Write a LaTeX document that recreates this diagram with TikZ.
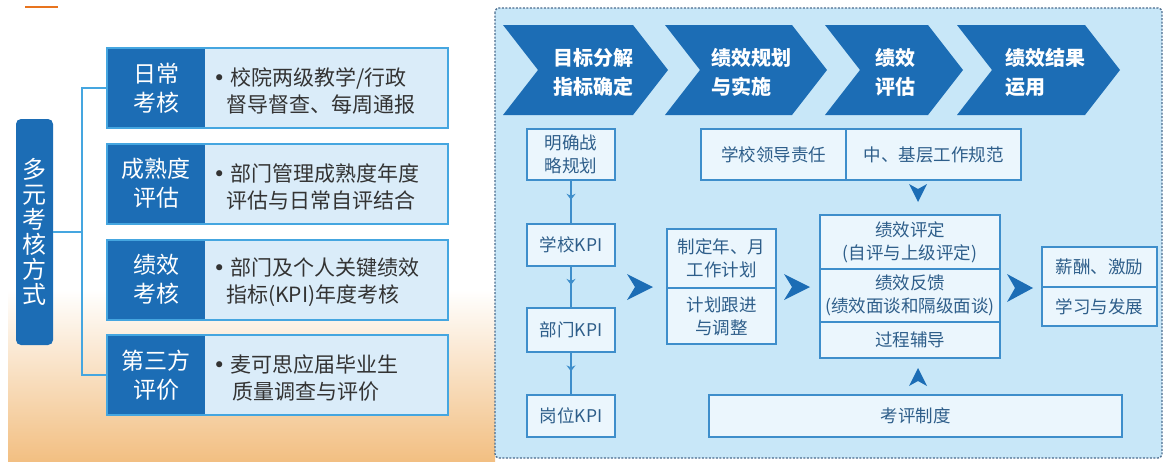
\documentclass[tikz,border=0pt]{standalone}
\usepackage{fontspec}
\setmainfont{Noto Sans CJK SC}
\newfontfamily\dvfont{DejaVu Sans}
\usetikzlibrary{calc,arrows.meta,decorations.markings}
\definecolor{dblue}{HTML}{1C6DB5}
\definecolor{lfill}{HTML}{DAECF9}
\definecolor{lborder}{HTML}{45A6E0}
\definecolor{pbg}{HTML}{C8E7F8}
\definecolor{pborder}{HTML}{4A6C8E}
\definecolor{rfill}{HTML}{EBF6FD}
\definecolor{rborder}{HTML}{3E8ECB}
\definecolor{rtext}{HTML}{2E5E8A}
\definecolor{dtext}{HTML}{333333}
\definecolor{orng}{HTML}{F2BF82}
\definecolor{orngmid}{HTML}{FCEBD6}
\definecolor{orline}{HTML}{E8741E}
\begin{document}
\begin{tikzpicture}[x=1pt,y=-1pt,
  tall/.style={fill=dblue, rounded corners=5pt, minimum width=37pt, minimum height=226pt, inner sep=0pt, text=white, font=\fontsize{24}{25}\selectfont, align=center},
  rowbox/.style={fill=lfill, minimum width=341pt, minimum height=80pt, inner sep=0pt, outer sep=0pt},
  rowkey/.style={fill=dblue, minimum width=98pt, minimum height=80pt, inner sep=0pt, outer sep=0pt, text=white, font=\fontsize{23}{29}\selectfont, align=center},
  rowline/.style={draw=lborder, line width=2pt},
  desc/.style={anchor=west, text=dtext, font=\fontsize{21}{27}\selectfont, align=left, inner sep=0pt},
  conn/.style={draw=lborder, line width=2pt},
  chev/.style={fill=dblue},
  chevtxt/.style={anchor=west, text=white, font=\bfseries\fontsize{20}{29}\selectfont, align=left, inner sep=0pt},
  rbox/.style={draw=rborder, fill=rfill, line width=1.3pt, text=rtext, font=\fontsize{17.5}{23}\selectfont, align=center, inner sep=0pt, outer sep=0pt},
  kline/.style={color=rborder, line width=1.3pt, postaction={decorate}, decoration={markings, mark=at position 0.45 with {\arrow{Stealth[length=6pt,width=9pt]}}}},
  bigarrow/.style={fill=dblue}
]
\newcommand\bul{\makebox[17pt][l]{\dvfont •}}
\useasboundingbox (0,0) rectangle (1167,461);
\fill[white] (0,0) rectangle (1167,461);
% left background
\shade[top color=white, middle color=orngmid, bottom color=orng] (8,290) rectangle (495,461);
\draw[orline, line width=1.5pt] (25,7) -- (58,7);

% left panel
\node[tall] (m) at (34.5,232) {多\\元\\考\\核\\方\\式};

\node[rowbox] (r1) at (277.5,88) {};
\node[rowkey] (r1k) at (156,88) {日常\\考核};
\draw[rowline] (r1.north west) rectangle (r1.south east);
\node[desc] (r1d) at (213,91) {\bul 校院两级教学/行政\\\hspace*{13pt}督导督查、每周通报};

\node[rowbox] (r2) at (277.5,183.5) {};
\node[rowkey] (r2k) at (156,183.5) {成熟度\\评估};
\draw[rowline] (r2.north west) rectangle (r2.south east);
\node[desc] (r2d) at (213,186.5) {\bul 部门管理成熟度年度\\\hspace*{13pt}评估与日常自评结合};

\node[rowbox] (r3) at (277.5,279.5) {};
\node[rowkey] (r3k) at (156,279.5) {绩效\\考核};
\draw[rowline] (r3.north west) rectangle (r3.south east);
\node[desc] (r3d) at (213,282.5) {\bul 部门及个人关键绩效\\\hspace*{13pt}指标(KPI)年度考核};

\node[rowbox] (r4) at (277.5,375) {};
\node[rowkey] (r4k) at (156,375) {第三方\\评价};
\draw[rowline] (r4.north west) rectangle (r4.south east);
\node[desc] (r4d) at (213,378) {\bul 麦可思应届毕业生\\\hspace*{19pt}质量调查与评价};

\coordinate (trunk) at (82,232);
\draw[conn] (m.east) -- (trunk);
\draw[conn] (r1.west) -| (trunk) |- (r4.west);

% right panel
\draw[pborder, fill=pbg, line width=1.3pt, dash pattern=on 2pt off 1.5pt, rounded corners=4pt] (495,8) rectangle (1162,458);

% chevrons
\fill[chev] (503,25) -- (633,25) -- (668,70) -- (633,115) -- (503,115) -- (538,70) -- cycle;
\fill[chev] (665,25) -- (792,25) -- (827,70) -- (792,115) -- (665,115) -- (700,70) -- cycle;
\fill[chev] (825,25) -- (928,25) -- (963,70) -- (928,115) -- (825,115) -- (860,70) -- cycle;
\fill[chev] (957,25) -- (1085,25) -- (1120,70) -- (1085,115) -- (957,115) -- (992,70) -- cycle;
\node[chevtxt] (c1) at (553,72) {目标分解\\指标确定};
\node[chevtxt] (c2) at (711,72) {绩效规划\\与实施};
\node[chevtxt] (c3) at (875,72) {绩效\\评估};
\node[chevtxt] (c4) at (1005,72) {绩效结果\\运用};

% KPI column
\node[rbox, minimum width=88pt, minimum height=51pt] (s0) at (571,154.5) {明确战\\略规划};
\node[rbox, minimum width=88pt, minimum height=42pt] (s1) at (571,245) {学校KPI};
\node[rbox, minimum width=88pt, minimum height=44pt] (s2) at (571,330) {部门KPI};
\node[rbox, minimum width=88pt, minimum height=42pt] (s3) at (571,416) {岗位KPI};
\draw[kline] (s0) -- (s1);
\draw[kline] (s1) -- (s2);
\draw[kline] (s2) -- (s3);

% plan boxes
\node[rbox, minimum width=109pt, minimum height=59pt] (a1) at (721.5,258.5) {制定年、月\\工作计划};
\node[rbox, minimum width=109pt, minimum height=56pt] (a2) at (721.5,316) {计划跟进\\与调整};

% evaluation boxes
\node[rbox, minimum width=180pt, minimum height=54pt] (b1) at (910,242) {绩效评定\\(自评与上级评定)};
\node[rbox, minimum width=180pt, minimum height=53pt] (b2) at (910,295.5) {绩效反馈\\(绩效面谈和隔级面谈)};
\node[rbox, minimum width=180pt, minimum height=36pt] (b3) at (910,340) {过程辅导};

% result boxes
\node[rbox, minimum width=115pt, minimum height=40pt] (d1) at (1099.5,267) {薪酬、激励};
\node[rbox, minimum width=115pt, minimum height=39pt] (d2) at (1099.5,306.5) {学习与发展};

% top boxes
\node[rbox, minimum width=145pt, minimum height=51pt] (t1) at (773.5,154.5) {学校领导责任};
\node[rbox, minimum width=175pt, minimum height=51pt] (t2) at (933.5,154.5) {中、基层工作规范};

% bottom box
\node[rbox, minimum width=413pt, minimum height=42pt] (k) at (915.5,416) {考评制度};

% big arrows
\coordinate (ar1) at (640,287);
\coordinate (ar2) at (797,287);
\coordinate (ar3) at (1020,288);
\coordinate (dn) at (918,193);
\coordinate (up) at (918,377);
\fill[bigarrow] (ar1) ++(-13,-13) -- ++(26,13) -- ++(-26,13) -- ++(8,-13) -- cycle;
\fill[bigarrow] (ar2) ++(-13,-13) -- ++(26,13) -- ++(-26,13) -- ++(8,-13) -- cycle;
\fill[bigarrow] (ar3) ++(-13,-14) -- ++(26,14) -- ++(-26,14) -- ++(8,-14) -- cycle;
\fill[bigarrow] (dn) ++(-9,-9) -- ++(9,18) -- ++(9,-18) -- ++(-9,5) -- cycle;
\fill[bigarrow] (up) ++(-9,9) -- ++(9,-18) -- ++(9,18) -- ++(-9,-5) -- cycle;
\end{tikzpicture}
\end{document}
